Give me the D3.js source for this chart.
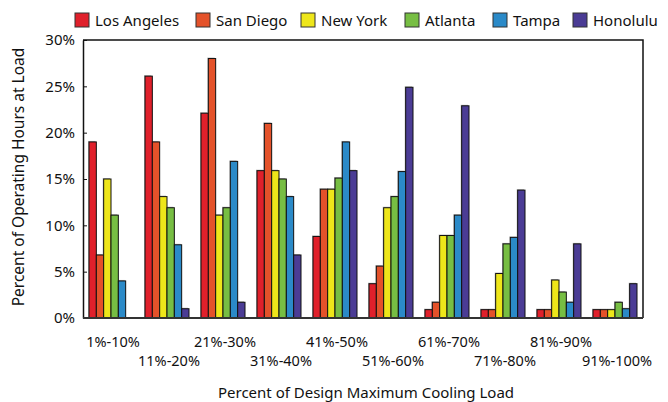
<!DOCTYPE html>
<html>
<head>
<meta charset="utf-8">
<script src="https://cdn.jsdelivr.net/npm/d3@7"></script>
<style>
  body { margin: 0; background: #fff; }
  text { font-family: "Noto Sans", sans-serif; fill: #111; }
</style>
</head>
<body>
<div id="chart"></div>
<script>
// categories and series
var loads = ["1%-10%", "11%-20%", "21%-30%", "31%-40%", "41%-50%",
             "51%-60%", "61%-70%", "71%-80%", "81%-90%", "91%-100%"];
var cities = ["Los Angeles", "San Diego", "New York", "Atlanta", "Tampa", "Honolulu"];
var colors = ["#e0202b", "#e4522a", "#eee61a", "#77be43", "#2b8ac8", "#4b3c95"];

var losAngeles = [19, 26.1, 22.1, 15.9, 8.8, 3.7, 0.9, 0.9, 0.9, 0.9];
var sanDiego   = [6.8, 19, 28, 21, 13.9, 5.6, 1.7, 0.9, 0.9, 0.9];
var newYork    = [15, 13.1, 11.1, 15.9, 13.9, 11.9, 8.9, 4.8, 4.1, 0.9];
var atlanta    = [11.1, 11.9, 11.9, 15, 15.1, 13.1, 8.9, 8, 2.8, 1.7];
var tampa      = [4, 7.9, 16.9, 13.1, 19, 15.8, 11.1, 8.7, 1.7, 1];
var honolulu   = [0, 1, 1.7, 6.8, 15.9, 24.9, 22.9, 13.8, 8, 3.7];
var series = [losAngeles, sanDiego, newYork, atlanta, tampa, honolulu];

var yTicks = [0, 5, 10, 15, 20, 25, 30];

var w = 668, h = 402;
var pLeft = 83, pRight = 643, pTop = 40, pBottom = 318;

var svg = d3.select("#chart").append("svg")
    .attr("width", w).attr("height", h);

var x0 = d3.scaleBand().domain(loads).range([pLeft, pRight]);
var x1 = d3.scaleBand().domain(cities).range([6, 50]);
var y = d3.scaleLinear().domain([0, 30]).range([pBottom, pTop]);

// frame (top and right)
svg.append("path")
    .attr("d", "M" + pLeft + "," + pTop + "H" + pRight + "V" + pBottom)
    .attr("fill", "none").attr("stroke", "#111").attr("stroke-width", 1.5);

function groupData(d, i) {
    return cities.map(function(c, j) { return {city: c, v: series[j][i], k: j}; })
                 .filter(function(e) { return e.v > 0; });
}

// bars
var groups = svg.selectAll("g.grp")
    .data(loads)
    .enter().append("g")
    .attr("class", "grp")
    .attr("transform", function(d) { return "translate(" + x0(d) + ",0)"; });

groups.selectAll("rect.shadow")
    .data(groupData)
    .enter().append("rect")
    .attr("class", "shadow")
    .attr("x", function(d) { return x1(d.city) - 1; })
    .attr("y", function(d) { return y(d.v) - 1; })
    .attr("width", x1.bandwidth())
    .attr("height", function(d) { return pBottom - y(d.v); })
    .attr("fill", "#bbb");

groups.selectAll("rect.bar")
    .data(groupData)
    .enter().append("rect")
    .attr("class", "bar")
    .attr("x", function(d) { return x1(d.city); })
    .attr("y", function(d) { return y(d.v); })
    .attr("width", x1.bandwidth())
    .attr("height", function(d) { return pBottom - y(d.v); })
    .attr("fill", function(d) { return colors[d.k]; })
    .attr("stroke", "#111").attr("stroke-width", 1);

// y axis, ticks pointing inward
var yAxis = d3.axisLeft(y).tickValues(yTicks).tickSizeInner(-4).tickSizeOuter(0)
    .tickPadding(8).tickFormat(function(d) { return d + "%"; });
var ya = svg.append("g").attr("transform", "translate(" + pLeft + ",0)").call(yAxis);
ya.select(".domain").attr("stroke", "#111").attr("stroke-width", 1.5);
ya.selectAll(".tick line").attr("stroke", "#111");
ya.selectAll(".tick text").attr("font-size", "15px").attr("font-family", "Noto Sans").attr("fill", "#111");

// bottom axis line
svg.append("line")
    .attr("x1", pLeft).attr("x2", pRight).attr("y1", pBottom).attr("y2", pBottom)
    .attr("stroke", "#333").attr("stroke-width", 2);

// staggered category labels
svg.selectAll("text.cat")
    .data(loads)
    .enter().append("text")
    .attr("class", "cat")
    .attr("x", function(d) { return x0(d) + x0.bandwidth() / 2 + 2; })
    .attr("y", function(d, i) { return i % 2 === 0 ? 347 : 366; })
    .attr("text-anchor", "middle")
    .attr("font-size", "14.5px")
    .text(function(d) { return d; });

// axis titles
svg.append("text")
    .attr("x", (pLeft + pRight) / 2 + 3).attr("y", 398)
    .attr("text-anchor", "middle").attr("font-size", "15px")
    .text("Percent of Design Maximum Cooling Load");

svg.append("text")
    .attr("transform", "translate(24,177) rotate(-90)")
    .attr("text-anchor", "middle").attr("font-size", "15.5px")
    .text("Percent of Operating Hours at Load");

// legend
var legendX = [75, 196, 301, 405, 493, 573];
var leg = svg.selectAll("g.leg")
    .data(cities)
    .enter().append("g")
    .attr("class", "leg")
    .attr("transform", function(d, i) { return "translate(" + legendX[i] + ",13)"; });
leg.append("rect")
    .attr("width", 14).attr("height", 14)
    .attr("fill", function(d, i) { return colors[i]; })
    .attr("stroke", "#333").attr("stroke-width", 1);
leg.append("text")
    .attr("x", 20).attr("y", 13)
    .attr("font-size", "15px")
    .text(function(d) { return d; });
</script>
</body>
</html>
